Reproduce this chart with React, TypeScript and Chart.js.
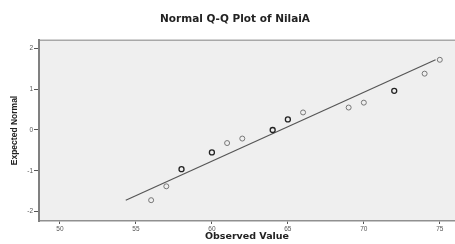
import React, { useEffect, useRef } from "react";
import { Chart, registerables } from "chart.js";

Chart.register(...registerables);

const chartTitle = "Normal Q-Q Plot of NilaiA";
const xAxisTitle = "Observed Value";
const yAxisTitle = "Expected Normal";

const observedValues = [56, 57, 58, 60, 61, 62, 64, 65, 66, 69, 70, 72, 74, 75];
const expectedNormal = [-1.72, -1.38, -0.96, -0.55, -0.32, -0.21, 0.0, 0.26, 0.43, 0.55, 0.67, 0.96, 1.38, 1.72];
const tieCounts = [1, 1, 2, 2, 1, 1, 2, 2, 1, 1, 1, 2, 1, 1];

const lineX = [54.33, 74.72];
const lineY = [-1.72, 1.72];

const xTicks = [50, 55, 60, 65, 70, 75];
const yTicks = [-2, -1, 0, 1, 2];
const xRange = [48.62, 76.0];
const yRange = [-2.23, 2.205];

const plotBackground = {
  id: "plotBackground",
  beforeDraw(chart: any) {
    const { ctx, chartArea } = chart;
    ctx.save();
    ctx.fillStyle = "#efefef";
    ctx.fillRect(chartArea.left, chartArea.top, chartArea.right - chartArea.left, chartArea.bottom - chartArea.top);
    ctx.strokeStyle = "#a8a8a8";
    ctx.lineWidth = 1.5;
    ctx.beginPath();
    ctx.moveTo(chartArea.left, chartArea.top + 0.25);
    ctx.lineTo(chartArea.right, chartArea.top + 0.25);
    ctx.stroke();
    ctx.restore();
  },
};

const customTitle = {
  id: "customTitle",
  afterDraw(chart: any) {
    const { ctx } = chart;
    ctx.save();
    ctx.font = "bold 10.5px 'DejaVu Sans', sans-serif";
    ctx.fillStyle = "#222";
    ctx.textAlign = "center";
    ctx.textBaseline = "middle";
    ctx.fillText(chartTitle, 235, 19);
    ctx.restore();
  },
};

export default function App() {
  const ref = useRef<HTMLCanvasElement | null>(null);

  useEffect(() => {
    document.body.style.margin = "0";
    document.body.style.background = "#ffffff";
    const canvas = ref.current;
    if (!canvas) return;

    const points = observedValues.map((x, i) => ({ x, y: expectedNormal[i] }));
    const linePts = lineX.map((x, i) => ({ x, y: lineY[i] }));

    const chart = new Chart(canvas, {
      type: "scatter",
      data: {
        datasets: [
          {
            data: linePts,
            showLine: true,
            pointRadius: 0,
            borderColor: "#555555",
            borderWidth: 1.2,
            order: 2,
          } as any,
          {
            data: points,
            pointRadius: 2.5,
            pointBackgroundColor: "rgba(0,0,0,0)",
            pointBorderColor: (c: any) => (tieCounts[c.dataIndex] > 1 ? "#222222" : "#777777"),
            pointBorderWidth: (c: any) => (tieCounts[c.dataIndex] > 1 ? 1.3 : 1),
            order: 1,
          } as any,
        ],
      },
      options: {
        animation: false,
        responsive: false,
        devicePixelRatio: 1,
        layout: { autoPadding: false, padding: { top: 40, left: 0, right: 0, bottom: 0 } },
        plugins: {
          legend: { display: false },
          tooltip: { enabled: false },
          title: { display: false },
        },
        scales: {
          x: {
            type: "linear",
            min: xRange[0],
            max: xRange[1],
            afterBuildTicks: (s: any) => {
              s.ticks = xTicks.map((v) => ({ value: v }));
            },
            afterFit: (s: any) => {
              s.height = 23;
            },
            grid: {
              drawOnChartArea: false,
              drawTicks: true,
              tickLength: 3,
              color: "#555",
            },
            border: { display: true, color: "#909090", width: 1.5 },
            ticks: {
              font: { size: 6.5, family: "'Liberation Sans', Arial, sans-serif" },
              color: "#555",
              padding: 1,
              maxRotation: 0,
              callback: (v: any) => String(v),
            },
            title: {
              display: true,
              text: xAxisTitle,
              font: { size: 9.5, weight: "bold", family: "'DejaVu Sans', sans-serif", lineHeight: 1 },
              color: "#222",
              padding: { top: 0, bottom: 2.5 },
            },
          },
          y: {
            type: "linear",
            min: yRange[0],
            max: yRange[1],
            afterBuildTicks: (s: any) => {
              s.ticks = yTicks.map((v) => ({ value: v }));
            },
            afterFit: (s: any) => {
              s.width = 39;
            },
            grid: {
              drawOnChartArea: false,
              drawTicks: true,
              tickLength: 5,
              color: "#555",
            },
            border: { display: true, color: "#808080", width: 2 },
            ticks: {
              font: { size: 6.5, family: "'Liberation Sans', Arial, sans-serif" },
              color: "#555",
              padding: 1,
              callback: (v: any) => String(v),
            },
            title: {
              display: true,
              text: yAxisTitle,
              font: { size: 8.5, weight: "bold", family: "'Liberation Sans', Arial, sans-serif", lineHeight: 1 },
              color: "#222",
              padding: { top: 10.5, bottom: 0 },
            },
          },
        },
      },
      plugins: [plotBackground, customTitle],
    });

    return () => chart.destroy();
  }, []);

  return <canvas ref={ref} width={455} height={244} style={{ display: "block", width: 455, height: 244 }} />;
}
